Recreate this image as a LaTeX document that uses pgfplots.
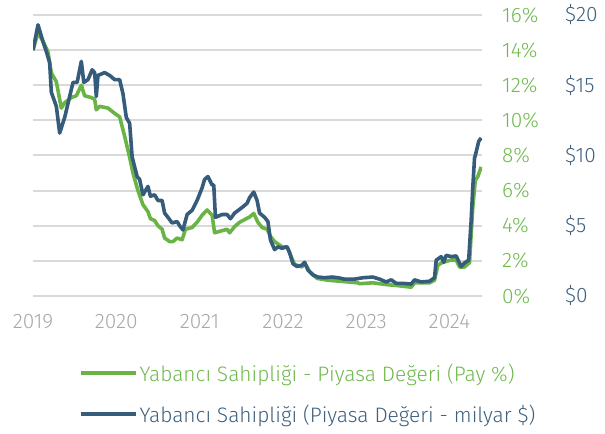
\documentclass[border=0pt]{standalone}
\usepackage{fontspec}
\setmainfont{Fira Sans}[UprightFont=* Light]
\usepackage{pgfplots}
\pgfplotsset{compat=1.18}
\definecolor{pgreen}{RGB}{106,180,70}
\definecolor{pblue}{RGB}{54,92,124}
\definecolor{tgreen}{RGB}{112,185,80}
\definecolor{tblue}{RGB}{62,96,126}
\definecolor{gridgray}{RGB}{217,217,217}
\definecolor{yeargray}{RGB}{168,168,168}
\newcommand\tkfont{\fontsize{21}{21}\selectfont}
\newcommand\lgfont{\fontsize{21}{21}\selectfont}
\begin{document}
\begin{tikzpicture}
\begin{axis}[
  at={(0,0)}, anchor=south west,
  scale only axis, width=449bp, height=281bp,
  xmin=2019, xmax=2024.39, ymin=0, ymax=16,
  axis line style={draw=none}, tick style={draw=none},
  ymajorgrids, grid style={gridgray, line width=2bp},
  ytick={0,2,4,6,8,10,12,14,16},
  yticklabels={0\%,2\%,4\%,6\%,8\%,10\%,12\%,14\%,16\%},
  yticklabel pos=right,
  yticklabel style={anchor=west, inner sep=0pt, xshift=20bp, text=tgreen, font=\tkfont},
  xtick={2019,2020,2021,2022,2023,2024},
  xticklabels={2019,2020,2021,2022,2023,2024},
  xticklabel style={anchor=north, inner sep=0pt, yshift=-18bp, text=yeargray, font=\tkfont},
]
\addplot[pgreen, line width=3.6bp, line join=round] coordinates {
(2019.00,14.0) (2019.06,15.0) (2019.12,14.5) (2019.18,13.9) (2019.22,12.7) (2019.28,12.2)
(2019.34,10.7) (2019.38,11.0) (2019.46,11.3) (2019.52,11.4) (2019.58,12.0) (2019.62,11.4)
(2019.70,11.3) (2019.74,11.2) (2019.76,10.6) (2019.80,10.8) (2019.90,10.7) (2019.98,10.4)
(2020.04,10.2) (2020.10,9.1) (2020.16,7.9) (2020.20,7.0) (2020.26,6.0) (2020.32,5.2)
(2020.38,4.8) (2020.41,4.4) (2020.46,4.3) (2020.50,4.0) (2020.55,3.8) (2020.58,3.3)
(2020.64,3.1) (2020.68,3.1) (2020.73,3.3) (2020.79,3.2) (2020.83,3.8) (2020.91,3.9)
(2020.97,4.2) (2021.03,4.6) (2021.09,4.9) (2021.15,4.6) (2021.18,3.6) (2021.33,3.8)
(2021.36,3.6) (2021.42,3.95) (2021.48,4.2) (2021.52,4.3) (2021.60,4.5) (2021.65,4.7)
(2021.70,4.2) (2021.75,3.9) (2021.81,3.8) (2021.85,3.4) (2021.90,3.1) (2021.99,2.8)
(2022.05,2.8) (2022.08,2.45) (2022.14,1.8) (2022.23,1.65) (2022.26,1.9) (2022.32,1.4)
(2022.41,1.0) (2022.54,0.9) (2022.66,0.85) (2022.78,0.8) (2022.90,0.75) (2022.92,0.7)
(2023.08,0.75) (2023.24,0.65) (2023.36,0.6) (2023.54,0.5) (2023.58,0.75) (2023.76,0.75)
(2023.82,0.9) (2023.86,1.75) (2023.91,1.9) (2024.02,2.05) (2024.08,2.05) (2024.12,1.65)
(2024.18,1.65) (2024.24,1.9) (2024.28,5.1) (2024.31,6.6) (2024.34,6.8) (2024.38,7.35)
};
\end{axis}
\begin{axis}[
  at={(0,0)}, anchor=south west,
  scale only axis, width=449bp, height=281bp,
  xmin=2019, xmax=2024.39, ymin=0, ymax=20,
  axis line style={draw=none}, tick style={draw=none},
  xtick=\empty,
  ytick={0,5,10,15,20},
  yticklabels={\$0,\$5,\$10,\$15,\$20},
  yticklabel pos=right,
  yticklabel style={anchor=west, inner sep=0pt, xshift=83bp, text=tblue, font=\tkfont},
  legend style={at={(0.1025,-0.235)}, anchor=north west, draw=none, fill=none,
    font=\lgfont, row sep=19bp, inner sep=0pt, nodes={inner sep=1.5bp}},
  legend cell align=left,
  legend image code/.code={\draw[#1, line width=4bp] (0bp,0bp) -- (55bp,0bp);},
]
\addlegendimage{pgreen, line width=3.6bp}
\addlegendentry[text=tgreen]{Yabancı Sahipliği - Piyasa Değeri (Pay \%)}
\addplot[pblue, line width=3.6bp, line join=round] coordinates {
(2019.00,17.5) (2019.06,19.3) (2019.12,18.1) (2019.16,17.4) (2019.20,16.6) (2019.22,14.5)
(2019.28,13.5) (2019.32,11.6) (2019.38,12.7) (2019.44,14.2) (2019.48,15.2) (2019.53,15.2)
(2019.58,16.7) (2019.61,15.2) (2019.66,15.4) (2019.71,16.1) (2019.74,15.9) (2019.76,14.2)
(2019.78,15.7) (2019.86,15.9) (2019.92,15.7) (2019.98,15.4) (2020.04,15.4) (2020.08,14.4)
(2020.12,12.7) (2020.16,12.3) (2020.19,9.9) (2020.25,8.5) (2020.28,8.3) (2020.32,7.2)
(2020.38,7.8) (2020.41,7.1) (2020.46,7.2) (2020.50,6.8) (2020.55,6.8) (2020.58,5.9)
(2020.62,5.6) (2020.67,5.2) (2020.73,5.3) (2020.76,5.0) (2020.80,4.7) (2020.85,5.8)
(2020.91,6.1) (2020.97,6.8) (2021.03,7.7) (2021.06,8.3) (2021.10,8.5) (2021.15,7.9)
(2021.17,7.9) (2021.19,5.6) (2021.27,5.8) (2021.33,5.8) (2021.37,5.5) (2021.42,5.9)
(2021.51,6.3) (2021.57,6.6) (2021.60,7.0) (2021.65,7.4) (2021.69,6.8) (2021.72,5.9)
(2021.78,5.6) (2021.82,5.3) (2021.85,4.0) (2021.90,3.3) (2021.94,3.5) (2021.99,3.4)
(2022.05,3.5) (2022.08,3.1) (2022.12,2.3) (2022.17,2.1) (2022.23,2.2) (2022.26,2.4)
(2022.30,1.85) (2022.36,1.5) (2022.42,1.35) (2022.50,1.3) (2022.59,1.35) (2022.66,1.3)
(2022.74,1.2) (2022.86,1.2) (2022.96,1.3) (2023.08,1.35) (2023.16,1.2) (2023.24,1.0)
(2023.30,1.15) (2023.36,0.9) (2023.44,0.9) (2023.54,0.85) (2023.58,1.15) (2023.66,1.0)
(2023.76,1.05) (2023.82,1.3) (2023.84,2.55) (2023.90,2.8) (2023.93,2.4) (2023.96,2.9)
(2024.02,2.8) (2024.08,2.85) (2024.12,2.35) (2024.14,2.1) (2024.18,2.35) (2024.23,2.55)
(2024.26,5.4) (2024.28,7.8) (2024.30,9.8) (2024.32,10.25) (2024.35,11.0) (2024.38,11.25)
};
\addlegendentry[text=tblue]{Yabancı Sahipliği (Piyasa Değeri - milyar \$)}
\end{axis}
\path (-33bp,-138bp) rectangle (572bp,296bp);
\end{tikzpicture}
\end{document}
